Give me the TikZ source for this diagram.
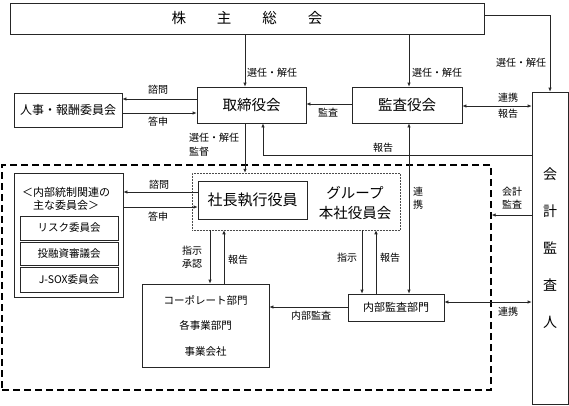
\documentclass[tikz,border=0pt]{standalone}
\usepackage{fontspec}
\setmainfont{Noto Sans CJK JP}
\usetikzlibrary{arrows.meta}

\tikzset{
	box/.style={draw=black!85, line width=.7pt, inner sep=0pt, align=center},
	lbl/.style={font=\fontsize{10}{13}\selectfont, inner sep=0pt, align=center},
	arr/.style={draw=black!85, line width=.7pt, -{Latex[length=4pt,width=3.5pt]}},
	darr/.style={draw=black!85, line width=.7pt, {Latex[length=4pt,width=3.5pt]}-{Latex[length=4pt,width=3.5pt]}},
}

\begin{document}
\begin{tikzpicture}[x=1pt,y=-1pt]
		\useasboundingbox (0,0) rectangle (569,405);
		\def\gap{\hspace{31pt}}
		% the frames of the internal control area
		\node[box, draw=black, line width=1.3pt, dash pattern=on 7pt off 4pt, minimum width=489, minimum height=225] (internal) at (246.5,277.5) {};
		\node[box, draw=black!70, line width=.5pt, densely dotted, minimum width=208, minimum height=57] (group) at (296,201.5) {};
		% the top level
		\node[box, minimum width=474, minimum height=31, font=\fontsize{14.5}{16}\selectfont] (meeting) at (247,18.5) {株\gap 主\gap 総\gap 会};
		\node[box, minimum width=109, minimum height=36, font=\fontsize{14.5}{16}\selectfont] (board) at (251.5,105) {取締役会};
		\node[box, minimum width=110, minimum height=36, font=\fontsize{14.5}{16}\selectfont] (kansa) at (407,105) {監査役会};
		\node[box, minimum width=108, minimum height=34, font=\fontsize{12}{14}\selectfont] (jinji) at (68,110) {人事・報酬委員会};
		\node[box, minimum width=36, minimum height=312, font=\fontsize{14}{37}\selectfont] (auditor) at (550,248) {会\\計\\監\\査\\人};
		% the executive side
		\node[box, minimum width=109, minimum height=38, font=\fontsize{15}{17}\selectfont] (president) at (252.5,200) {社長執行役員};
		\node[lbl, font=\fontsize{14.5}{20}\selectfont] (groupText) at (355,203) {グループ\\本社役員会};
		\node[box, minimum width=109, minimum height=124] (committees) at (68.5,235) {};
		\node[lbl, font=\fontsize{11}{13}\selectfont] (commTitle) at (66,198.5) {＜内部統制関連の\\主な委員会＞};
		\node[box, minimum width=98, minimum height=24, font=\fontsize{10.5}{12}\selectfont] (risk) at (69,228) {リスク委員会};
		\node[box, minimum width=98, minimum height=23, font=\fontsize{10.5}{12}\selectfont] (invest) at (69,253.5) {投融資審議会};
		\node[box, minimum width=98, minimum height=25, font=\fontsize{10.5}{12}\selectfont] (jsox) at (69,279.5) {J-SOX委員会};
		\node[box, minimum width=127, minimum height=83, font=\fontsize{10.5}{25.5}\selectfont] (corp) at (205.5,325.5) {コーポレート部門\\各事業部門\\事業会社};
		\node[box, minimum width=96, minimum height=27, font=\fontsize{11}{13}\selectfont] (ia) at (396,307.5) {内部監査部門};
		% appointments from the shareholders
		\draw[arr] (meeting.south -| 245,0) -- (board.north -| 245,0); \node[lbl] (selBoard) at (272,73) {選任・解任};
		\draw[arr] (meeting.south -| 409,0) -- (kansa.north -| 409,0); \node[lbl] (selKansa) at (437,73) {選任・解任};
		\draw[arr] (meeting.east |- 0,15) -| (auditor.north); \node[lbl] (selAud) at (521,63) {選任・解任};
		% board level
		\draw[arr] (board.west |- 0,99) -- (jinji.east |- 0,99); \node[lbl] (askJinji) at (158,90) {諮問};
		\draw[arr] (jinji.east |- 0,113) -- (board.west |- 0,113); \node[lbl] (ansJinji) at (158,122) {答申};
		\draw[arr] (kansa.west |- 0,104) -- (board.east |- 0,104); \node[lbl] (audBoard) at (328,113) {監査};
		\draw[darr] (kansa.east |- 0,106) -- (auditor.west |- 0,106); \node[lbl] (coopA) at (508,98) {連携}; \node[lbl] (repA) at (508,114) {報告};
		\draw[arr] (auditor.west |- 0,155) -| (board.south -| 263,0); \node[lbl] (repBoard) at (383,148) {報告};
		\draw[arr] (board.south -| 245,0) -- (group.north -| 245,0); \node[lbl, anchor=west, align=left, font=\fontsize{10}{14}\selectfont] (selGroup) at (189,145) {選任・解任\\監督};
		\draw[darr] (kansa.south -| 409,0) -- (ia.north -| 409,0); \node[lbl] (coopIA) at (418,198) {連\\携};
		% executive level
		\draw[arr] (president.west |- 0,192) -- (committees.east |- 0,192); \node[lbl] (askComm) at (159,185) {諮問};
		\draw[arr] (committees.east |- 0,207) -- (president.west |- 0,207); \node[lbl] (ansComm) at (158,217) {答申};
		\draw[arr] (group.south -| 210,0) -- (corp.north -| 210,0); \node[lbl] (ordCorp) at (192,257) {指示\\承認};
		\draw[arr] (corp.north -| 224,0) -- (group.south -| 224,0); \node[lbl] (repCorp) at (238,260) {報告};
		\draw[arr] (group.south -| 362,0) -- (ia.north -| 362,0); \node[lbl] (ordIA) at (347,258) {指示};
		\draw[arr] (ia.north -| 376,0) -- (group.south -| 376,0); \node[lbl] (repIA) at (390,258) {報告};
		\draw[arr] (ia.west |- 0,307) -- (corp.east |- 0,307); \node[lbl] (iaCorp) at (311,316) {内部監査};
		% external auditor
		\draw[darr] (ia.east |- 0,302) -- (auditor.west |- 0,302); \node[lbl] (coopB) at (508,312) {連携};
		\draw[arr] (auditor.west |- 0,215) -- (internal.east |- 0,215); \node[lbl] (accAud) at (512,198.5) {会計\\監査};
\end{tikzpicture}
\end{document}
